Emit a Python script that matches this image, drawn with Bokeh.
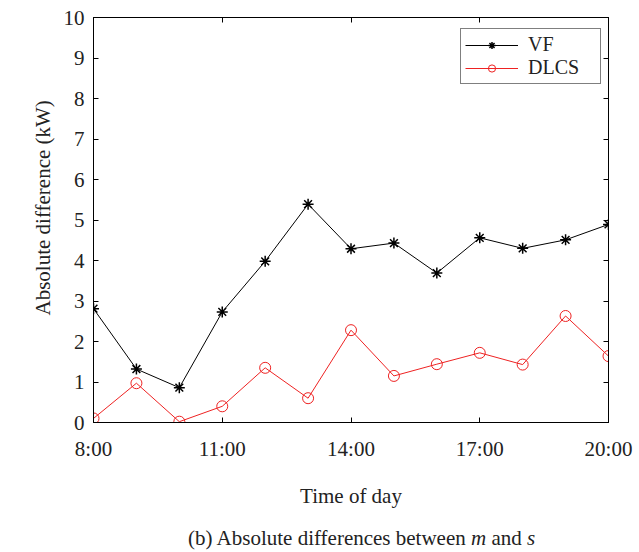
from bokeh.plotting import figure
from bokeh.models import (ColumnDataSource, FixedTicker, LinearAxis, Legend,
                          LegendItem, Range1d, Title, Div, CustomJSTickFormatter)
from bokeh.layouts import column
from bokeh.embed import file_html
from bokeh.resources import INLINE

# Hour of day and absolute differences (kW) for each method
hours = [8, 9, 10, 11, 12, 13, 14, 15, 16, 17, 18, 19, 20]
vf = [2.81, 1.32, 0.86, 2.73, 3.98, 5.39, 4.29, 4.43, 3.69, 4.56, 4.30, 4.51, 4.89]
dlcs = [0.10, 0.97, 0.02, 0.40, 1.35, 0.60, 2.28, 1.15, 1.44, 1.72, 1.43, 2.63, 1.64]

x_ticks = [8, 11, 14, 17, 20]
x_tick_labels = ["8:00", "11:00", "14:00", "17:00", "20:00"]
y_ticks = [0, 1, 2, 3, 4, 5, 6, 7, 8, 9, 10]

FONT = "Liberation Serif"
TEXT = "#222222"
RED = "#ee2222"

src = ColumnDataSource(dict(h=hours, vf=vf, dlcs=dlcs))

p = figure(width=639, height=515, output_backend="svg", toolbar_location=None,
           x_range=Range1d(8, 20), y_range=Range1d(0, 10),
           min_border_left=93, min_border_right=31, min_border_top=17,
           min_border_bottom=93)
p.xgrid.visible = False
p.ygrid.visible = False
p.outline_line_color = "black"
p.outline_line_width = 1
p.background_fill_color = "white"
p.border_fill_color = "white"

xa = p.xaxis[0]
ya = p.yaxis[0]
xa.ticker = FixedTicker(ticks=x_ticks)
xa.major_label_overrides = {t: s for t, s in zip(x_ticks, x_tick_labels)}
ya.ticker = FixedTicker(ticks=y_ticks)

for ax in (xa, ya):
    ax.major_tick_in = 5
    ax.major_tick_out = 0
    ax.minor_tick_in = 0
    ax.minor_tick_out = 0
    ax.axis_line_color = "black"
    ax.major_tick_line_color = "black"
    ax.major_label_text_font = FONT
    ax.major_label_text_font_size = "21px"
    ax.major_label_text_color = TEXT
    ax.axis_label_text_font = FONT
    ax.axis_label_text_font_size = "21px"
    ax.axis_label_text_font_style = "normal"
    ax.axis_label_text_color = TEXT

xa.major_label_standoff = 14
xa.axis_label = "Time of day"
xa.axis_label_standoff = 20
ya.major_label_standoff = 9

# Mirror ticks on the top and right edges
blank = CustomJSTickFormatter(code="return ''")
top = LinearAxis(ticker=FixedTicker(ticks=x_ticks), formatter=blank)
right = LinearAxis(ticker=FixedTicker(ticks=y_ticks), formatter=blank)
for ax in (top, right):
    ax.major_tick_in = 5
    ax.major_tick_out = 0
    ax.minor_tick_in = 0
    ax.minor_tick_out = 0
    ax.major_label_standoff = 0
    ax.major_label_text_font_size = "1px"
    ax.axis_line_color = "black"
    ax.major_tick_line_color = "black"
p.add_layout(top, "above")
p.add_layout(right, "right")

# Vertical axis title, anchored from the bottom of the frame
ylab = Title(text="Absolute difference (kW)", align="left", offset=107,
             text_font=FONT, text_font_size="21px", text_font_style="normal",
             text_color=TEXT, standoff=12)
p.add_layout(ylab, "left")

vf_line = p.line("h", "vf", source=src, line_color="black", line_width=1)
vf_pts = p.scatter("h", "vf", source=src, marker="asterisk", size=11,
                   line_color="black", line_width=1.5)
dl_line = p.line("h", "dlcs", source=src, line_color=RED, line_width=1)
dl_pts = p.scatter("h", "dlcs", source=src, marker="circle", size=11,
                   line_color=RED, fill_color=None, line_width=1)

legend = Legend(items=[LegendItem(label="VF", renderers=[vf_line, vf_pts]),
                       LegendItem(label="DLCS", renderers=[dl_line, dl_pts])],
                location=(367, 338), padding=4, spacing=0, margin=0,
                glyph_width=53, glyph_height=18, label_standoff=10,
                label_width=68,
                label_text_font=FONT, label_text_font_size="20px",
                label_text_color=TEXT, border_line_color="black",
                border_line_width=1.5, background_fill_color="white")
p.add_layout(legend, "center")

caption = Div(text=('<div style="font-family:\'Liberation Serif\',serif;'
                    'font-size:21px;color:#222222;padding-left:183px;'
                    'padding-top:6px;line-height:24px;white-space:nowrap">'
                    '(b) Absolute differences between <i>m</i> and <i>s</i></div>'),
              width=639, height=37)

layout = column(p, caption, spacing=0)
open("out.html", "w").write(file_html(layout, INLINE))
